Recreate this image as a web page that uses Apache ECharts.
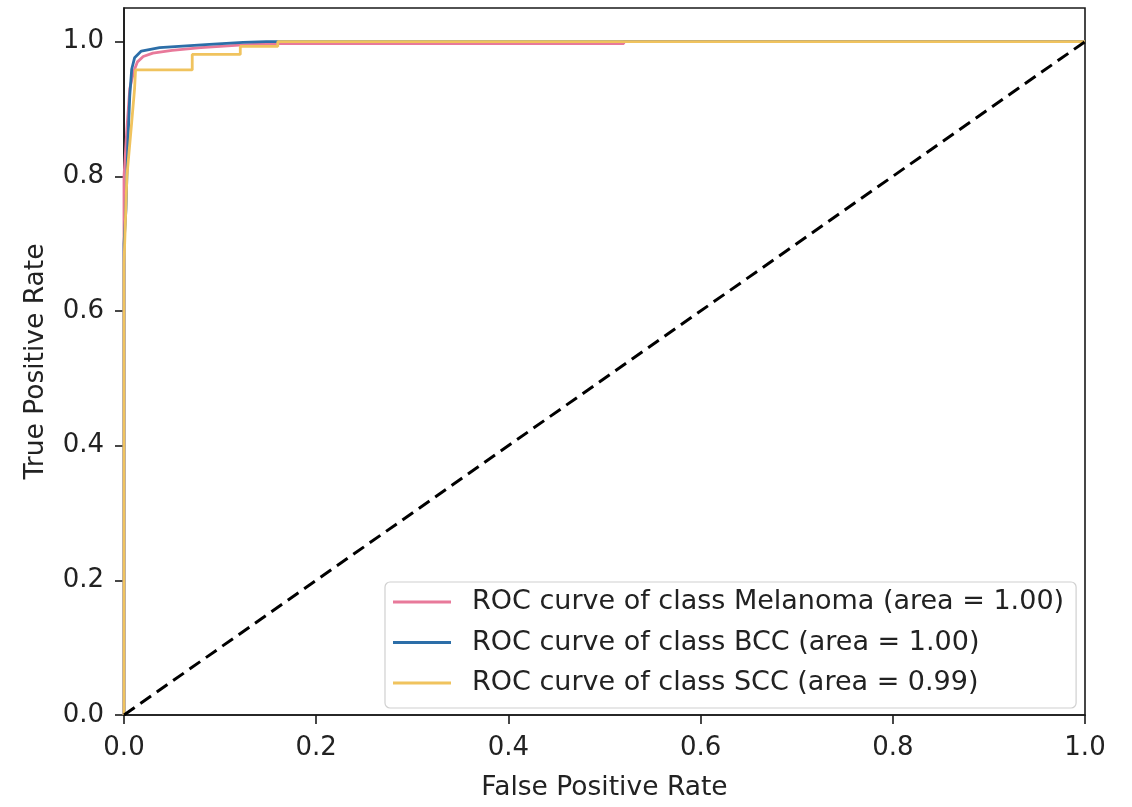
<!DOCTYPE html>
<html>
<head>
<meta charset="utf-8">
<script src="https://cdn.jsdelivr.net/npm/echarts@6/dist/echarts.min.js"></script>
<style>
html,body{margin:0;padding:0;background:#fff;}
#chart{width:1132px;height:807px;}
</style>
</head>
<body>
<div id="chart"></div>
<script>
// ---- data ----
const seriesNames = [
  'ROC curve of class Melanoma (area = 1.00)',
  'ROC curve of class BCC (area = 1.00)',
  'ROC curve of class SCC (area = 0.99)'
];
const melFpr = [0, 0, 0.003, 0.006, 0.010, 0.014, 0.020, 0.030, 0.050, 0.080, 0.120, 0.150, 0.520, 0.520, 1.0];
const melTpr = [0, 0.80, 0.87, 0.93, 0.955, 0.970, 0.978, 0.983, 0.987, 0.991, 0.995, 0.997, 0.997, 1.0, 1.0];
const bccFpr = [0, 0, 0.002, 0.004, 0.006, 0.008, 0.011, 0.018, 0.037, 0.089, 0.124, 0.148, 1.0];
const bccTpr = [0, 0.70, 0.75, 0.85, 0.92, 0.959, 0.976, 0.986, 0.991, 0.996, 0.999, 1.0, 1.0];
const sccFpr = [0, 0, 0.003, 0.008, 0.011, 0.012, 0.071, 0.071, 0.121, 0.121, 0.160, 0.160, 1.0];
const sccTpr = [0, 0.67, 0.80, 0.88, 0.93, 0.958, 0.958, 0.981, 0.981, 0.993, 0.993, 1.0, 1.0];
const diagX = [0, 1];
const diagY = [0, 1];
const tickValues = [0, 0.2, 0.4, 0.6, 0.8, 1.0];
const xAxisName = 'False Positive Rate';
const yAxisName = 'True Positive Rate';

const zip = (a, b) => a.map((v, i) => [v, b[i]]);
const FONT = 'DejaVu Sans';

const chart = echarts.init(document.getElementById('chart'), null, {renderer: 'canvas'});
const axisCommon = {
  type: 'value',
  axisLine: {show: true, onZero: false, lineStyle: {color: '#1a1a1a', width: 1.6}},
  axisTick: {show: true, length: 9, lineStyle: {color: '#1a1a1a', width: 1.6}, customValues: tickValues},
  axisLabel: {customValues: tickValues, color: '#222', fontFamily: FONT, fontSize: 26,
    formatter: v => v.toFixed(1)},
  splitLine: {show: false},
  nameLocation: 'middle',
  nameTextStyle: {color: '#222', fontFamily: FONT, fontSize: 26.5}
};
chart.setOption({
  animation: false,
  backgroundColor: '#fff',
  grid: {left: 124, right: 47, top: 8, bottom: 84, show: true, borderColor: '#1a1a1a', borderWidth: 1.6, containLabel: false},
  xAxis: Object.assign({}, axisCommon, {min: 0, max: 1, name: xAxisName, nameGap: 60,
    axisLabel: Object.assign({}, axisCommon.axisLabel, {margin: 20})}),
  yAxis: Object.assign({}, axisCommon, {min: 0, max: 1.05, name: yAxisName, nameGap: 74,
    axisLabel: Object.assign({}, axisCommon.axisLabel, {margin: 20})}),
  legend: {
    data: seriesNames,
    orient: 'vertical',
    left: 385, top: 582,
    backgroundColor: '#fff',
    borderColor: '#d0d0d0', borderWidth: 1.2, borderRadius: 5,
    padding: [5, 12, 10, 8],
    icon: 'rect',
    itemWidth: 58, itemHeight: 3, itemGap: 10.5,
    textStyle: {color: '#222', fontFamily: FONT, fontSize: 27, lineHeight: 30, padding: [0, 0, 0, 16]}
  },
  series: [
    {name: seriesNames[0], type: 'line', symbol: 'none', data: zip(melFpr, melTpr),
      lineStyle: {color: '#e8799a', width: 2.8}, itemStyle: {color: '#e8799a'}, z: 3},
    {name: seriesNames[1], type: 'line', symbol: 'none', data: zip(bccFpr, bccTpr),
      lineStyle: {color: '#2c6ea8', width: 2.8}, itemStyle: {color: '#2c6ea8'}, z: 3},
    {name: seriesNames[2], type: 'line', symbol: 'none', data: zip(sccFpr, sccTpr),
      lineStyle: {color: '#f0c35e', width: 2.8}, itemStyle: {color: '#f0c35e'}, z: 3},
    {name: 'diag', type: 'line', symbol: 'none', data: zip(diagX, diagY),
      lineStyle: {color: '#000', width: 3, type: [13, 7]}, z: 5, silent: true}
  ]
});
</script>
</body>
</html>
